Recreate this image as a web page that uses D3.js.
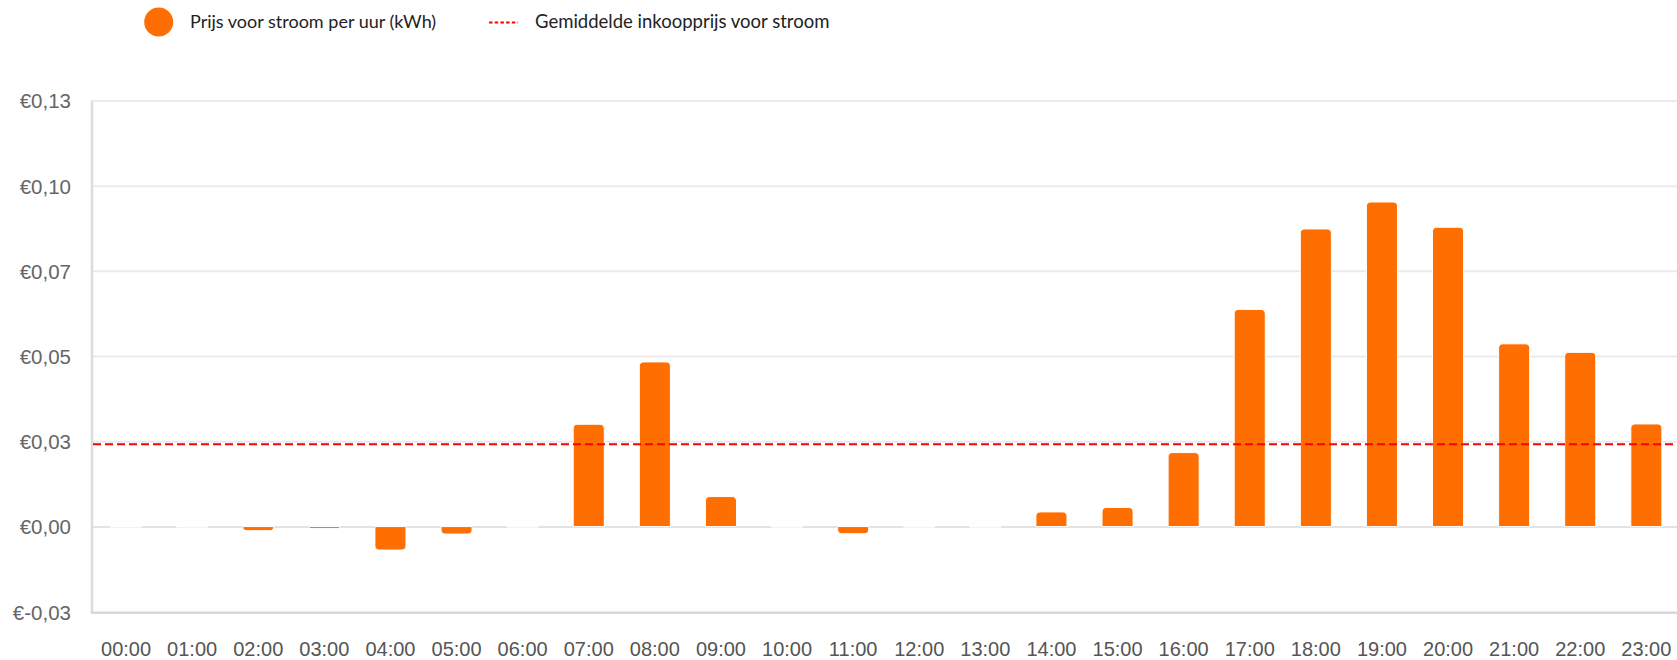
<!DOCTYPE html>
<html><head><meta charset="utf-8">
<script src="https://cdn.jsdelivr.net/npm/d3@7"></script>
<style>body{margin:0;background:#fff;overflow:hidden} svg{display:block}</style>
</head><body><svg id="c" width="1677" height="660"></svg>
<script>
const hours = ["00:00","01:00","02:00","03:00","04:00","05:00","06:00","07:00","08:00","09:00","10:00","11:00",
               "12:00","13:00","14:00","15:00","16:00","17:00","18:00","19:00","20:00","21:00","22:00","23:00"];
const prices = [0, 0, -0.0012, -0.0006, -0.0069, -0.0022, 0, 0.0300, 0.0483, 0.0088, 0, -0.0021,
                0, 0, 0.0043, 0.0056, 0.0217, 0.0637, 0.0873, 0.0952, 0.0878, 0.0536, 0.0511, 0.0301];
const averagePrice = 0.02415;
const yTickValues = [-0.025, 0, 0.025, 0.05, 0.075, 0.1, 0.125];
const yTickLabels = ["€-0,03", "€0,00", "€0,03", "€0,05", "€0,07", "€0,10", "€0,13"];
const legendLabels = ["Prijs voor stroom per uur (kWh)", "Gemiddelde inkoopprijs voor stroom"];

const svg = d3.select("#c");
const mLeft = 93, mRight = 1679.4, mTop = 100.4, mBottom = 611.8;
const x = d3.scaleBand().domain(hours).range([mLeft, mRight]).paddingInner(0.53).paddingOuter(0.265);
const y = d3.scaleLinear().domain([-0.025, 0.125]).range([mBottom, mTop]);

// gridlines
const grid = svg.append("g").attr("transform", `translate(${mLeft},0)`)
  .call(d3.axisLeft(y).tickValues(yTickValues.filter(v => v > -0.025)).tickSize(-(1677 - mLeft)).tickFormat(""));
grid.select(".domain").remove();
grid.selectAll("line").attr("stroke", "#ebebeb").attr("stroke-width", 2);
grid.selectAll("line").filter(d => d === 0).attr("stroke", "#e3e3e3");

// y labels
const ya = svg.append("g").attr("transform", `translate(${mLeft},0)`)
  .call(d3.axisLeft(y).tickValues(yTickValues).tickFormat((d, i) => yTickLabels[i]).tickSize(0).tickPadding(22));
ya.select(".domain").remove();
ya.selectAll("text").attr("font-family", "Liberation Sans, Arial, sans-serif").attr("font-size", 20.5)
  .attr("fill", "#666").attr("dy", "0.36em");

// x labels
const xa = svg.append("g").attr("transform", `translate(0,${mBottom})`)
  .call(d3.axisBottom(x).tickSize(0));
xa.select(".domain").remove();
xa.selectAll("text").attr("font-family", "Liberation Sans, Arial, sans-serif").attr("font-size", 20)
  .attr("fill", "#555").attr("y", 44).attr("dy", 0);

// axis lines
svg.append("line").attr("x1", mLeft - 1).attr("x2", mLeft - 1).attr("y1", mTop).attr("y2", mBottom + 1)
  .attr("stroke", "#dcdcdc").attr("stroke-width", 2.5);
svg.append("line").attr("x1", mLeft - 2).attr("x2", 1677).attr("y1", mBottom + 1).attr("y2", mBottom + 1)
  .attr("stroke", "#d8d8d8").attr("stroke-width", 2.5);

// bars
const r = 4.5;
function barPath(d, i) {
  const x0 = x(hours[i]), w = x.bandwidth(), y0 = y(0), y1 = y(d);
  const h = Math.abs(y1 - y0);
  if (h < 0.5) return `M${x0},${y0 - 0.5}h${w}v1h${-w}Z`;
  const rr = Math.min(r, h, w / 2);
  if (d > 0) {
    return `M${x0},${y0}V${y1 + rr}Q${x0},${y1} ${x0 + rr},${y1}H${x0 + w - rr}Q${x0 + w},${y1} ${x0 + w},${y1 + rr}V${y0}Z`;
  } else {
    return `M${x0},${y0}V${y1 - rr}Q${x0},${y1} ${x0 + rr},${y1}H${x0 + w - rr}Q${x0 + w},${y1} ${x0 + w},${y1 - rr}V${y0}Z`;
  }
}
svg.append("g").selectAll("path").data(prices).join("path")
  .attr("d", barPath)
  .attr("fill", (d) => Math.abs(y(d) - y(0)) < 0.5 ? "#fff" : "#ff6e00")
  .attr("stroke", "#fff").attr("stroke-width", 1);

// average line
svg.append("line").attr("x1", mLeft).attr("x2", 1677).attr("y1", y(averagePrice)).attr("y2", y(averagePrice))
  .attr("stroke", "#ff0000").attr("stroke-width", 2.2).attr("stroke-dasharray", "8,4");

// legend
const lg = svg.append("g");
lg.append("circle").attr("cx", 158.7).attr("cy", 22).attr("r", 14.5).attr("fill", "#ff6e00");
lg.append("text").attr("x", 190).attr("y", 22).attr("dy", "0.35em").text(legendLabels[0])
  .attr("font-family", "Lato, sans-serif").attr("font-size", 18).attr("fill", "#222");
lg.append("line").attr("x1", 489).attr("x2", 518).attr("y1", 22.5).attr("y2", 22.5)
  .attr("stroke", "#ff0000").attr("stroke-width", 2).attr("stroke-dasharray", "3.5,2.2");
lg.append("text").attr("x", 535).attr("y", 22).attr("dy", "0.35em").text(legendLabels[1])
  .attr("font-family", "Lato, sans-serif").attr("font-size", 18.5).attr("fill", "#222");
</script></body></html>
